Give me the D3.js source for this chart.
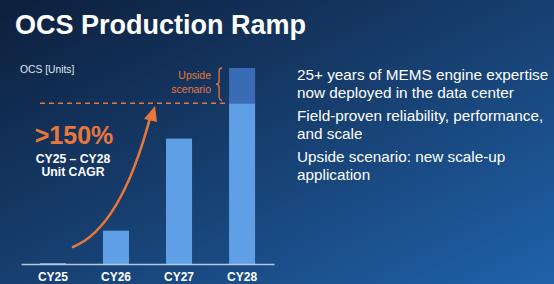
<html>
<head>
<meta charset="utf-8">
<title>OCS Production Ramp</title>
<style type="text/css">
body { margin: 0; background: #10284a; }
svg { font-family: "Liberation Sans", Arial, Helvetica, sans-serif; display: block; }
.bar { fill: #5e9fe6; }
.upside { fill: #3a6bb5; }
.tick text { fill: #fff; font-weight: bold; font-size: 12px; }
.note { fill: #fff; font-size: 15.3px; }
.orange { fill: #e8773c; }
</style>
</head>
<body>
<script src="https://d3js.org/d3.v7.min.js"></script>
<script>
var W = 554, H = 284;

// chart data (relative units)
var years = ["CY25", "CY26", "CY27", "CY28"];
var units = [0.5, 17, 64, 82];
var upside = [0, 0, 0, 18]; // extra on top of the base bar

var notes = [
  ["25+ years of MEMS engine expertise", "now deployed in the data center"],
  ["Field-proven reliability, performance,", "and scale"],
  ["Upside scenario: new scale-up", "application"]
];

var svg = d3.select("body").append("svg")
  .attr("width", W)
  .attr("height", H);

// background gradient
var defs = svg.append("defs");
var grad = defs.append("linearGradient").attr("id", "bg")
  .attr("x1", "0%").attr("y1", "0%").attr("x2", "100%").attr("y2", "100%");
grad.append("stop").attr("offset", "0%").attr("stop-color", "#0d1f3c");
grad.append("stop").attr("offset", "50%").attr("stop-color", "#173f70");
grad.append("stop").attr("offset", "100%").attr("stop-color", "#1f62aa");
svg.append("rect").attr("width", W).attr("height", H).attr("fill", "url(#bg)");

// title
svg.append("text")
  .attr("x", 15).attr("y", 34)
  .attr("fill", "#fff")
  .attr("font-weight", "bold")
  .attr("font-size", 27)
  .text("OCS Production Ramp");

// scales
var xs = d3.scaleBand().domain(years).range([21, 274]).paddingInner(0.587).paddingOuter(0.3);
var ys = d3.scaleLinear().domain([0, 100]).range([264, 68]);

var g = svg.append("g");

g.selectAll("rect.bar").data(years).join("rect")
  .attr("class", "bar")
  .attr("x", function(d) { return xs(d); })
  .attr("width", xs.bandwidth())
  .attr("y", function(d, i) { return ys(units[i]); })
  .attr("height", function(d, i) { return ys(0) - ys(units[i]); });

g.selectAll("rect.upside").data(years.filter(function(d, i) { return upside[i] > 0; })).join("rect")
  .attr("class", "upside")
  .attr("x", function(d) { return xs(d); })
  .attr("width", xs.bandwidth())
  .attr("y", function(d) { var i = years.indexOf(d); return ys(units[i] + upside[i]); })
  .attr("height", function(d) { var i = years.indexOf(d); return ys(units[i]) - ys(units[i] + upside[i]); });

// x axis
var xAxis = svg.append("g")
  .attr("transform", "translate(0," + ys(0) + ")")
  .call(d3.axisBottom(xs).tickSize(0).tickPadding(8));
xAxis.select(".domain").attr("stroke", "#b4c8dd").attr("stroke-width", 1.5);
xAxis.selectAll(".tick text").attr("font-family", null);

// y label
svg.append("text")
  .attr("x", 20).attr("y", 73)
  .attr("fill", "#dde6f0")
  .attr("font-size", 10.3)
  .text("OCS [Units]");

// dashed reference at the base CY28 level
var last = years.length - 1;
svg.append("line")
  .attr("x1", 40).attr("x2", xs(years[last]))
  .attr("y1", ys(units[last])).attr("y2", ys(units[last]))
  .attr("stroke", "#e0783f")
  .attr("stroke-width", 1.6)
  .attr("stroke-dasharray", "5,4");

// upside bracket + label
var bx = xs(years[last]) - 10;
var yt = ys(units[last] + upside[last]), yb = ys(units[last]) - 3;
var ym = (yt + yb) / 2;
svg.append("path")
  .attr("d", "M" + (bx + 3) + "," + yt + " Q" + bx + "," + yt + " " + bx + "," + (yt + 4) +
    " L" + bx + "," + (ym - 3) + " Q" + bx + "," + ym + " " + (bx - 3) + "," + ym +
    " Q" + bx + "," + ym + " " + bx + "," + (ym + 3) +
    " L" + bx + "," + (yb - 4) + " Q" + bx + "," + yb + " " + (bx + 3) + "," + yb)
  .attr("fill", "none")
  .attr("stroke", "#e8773c")
  .attr("stroke-width", 1.3);
svg.append("text").attr("class", "orange")
  .attr("x", 211).attr("y", 79).attr("text-anchor", "end").attr("font-size", 10.5)
  .text("Upside");
svg.append("text").attr("class", "orange")
  .attr("x", 211).attr("y", 93).attr("text-anchor", "end").attr("font-size", 10.5)
  .text("scenario");

// growth arrow
svg.append("path")
  .attr("d", "M73,247 C100,236 128,200 150,118")
  .attr("fill", "none")
  .attr("stroke", "#e8773c")
  .attr("stroke-width", 2.6)
  .attr("stroke-linecap", "round");
svg.append("path")
  .attr("d", "M155,106 L144,119 L157,122 Z")
  .attr("fill", "#e8773c");

// CAGR callout
svg.append("text").attr("class", "orange")
  .attr("x", 74).attr("y", 144).attr("text-anchor", "middle")
  .attr("font-weight", "bold").attr("font-size", 25)
  .text(">150%");
svg.append("text")
  .attr("x", 73).attr("y", 163).attr("text-anchor", "middle")
  .attr("fill", "#fff").attr("font-weight", "bold").attr("font-size", 12.2)
  .text("CY25 \u2013 CY28");
svg.append("text")
  .attr("x", 73).attr("y", 176).attr("text-anchor", "middle")
  .attr("fill", "#fff").attr("font-weight", "bold").attr("font-size", 12.2)
  .text("Unit CAGR");

// bullet notes
var noteTop = [80, 121, 162];
notes.forEach(function(lines, i) {
  var t = svg.append("text").attr("class", "note").attr("x", 297).attr("y", noteTop[i]);
  lines.forEach(function(s, j) {
    t.append("tspan").attr("x", 297).attr("dy", j === 0 ? 0 : 18).text(s);
  });
});
</script>
</body>
</html>
